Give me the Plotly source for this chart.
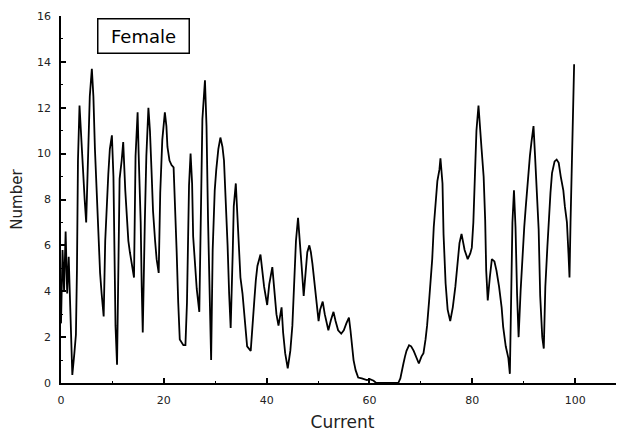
import plotly.graph_objects as go

current = [
    0.0, 0.3, 0.6, 0.9, 1.2, 1.5, 1.8, 2.0, 2.2, 2.6, 2.9, 3.1, 3.3, 3.6, 3.8, 4.0, 4.3, 4.6, 4.9,
    5.3, 5.6, 6.0, 6.3, 6.6, 7.0, 7.3, 7.6, 7.9, 8.3, 8.6, 8.9, 9.2, 9.5, 9.9, 10.2, 10.4, 10.6,
    10.9, 11.2, 11.4, 11.8, 12.1, 12.5, 12.8, 13.1, 13.4, 13.9, 14.2, 14.5, 14.9, 15.1, 15.5,
    15.7, 15.9, 16.3, 16.6, 17.0, 17.3, 17.6, 17.9, 18.3, 18.6, 19.0, 19.3, 19.7, 20.2, 20.5,
    20.7, 21.1, 21.5, 21.9, 22.1, 22.5, 22.8, 23.1, 23.8, 24.2, 24.5, 24.7, 24.9, 25.2, 25.5,
    25.7, 26.1, 26.4, 26.9, 27.2, 27.5, 28.0, 28.3, 28.6, 29.0, 29.2, 29.5, 29.9, 30.2, 30.6,
    31.0, 31.4, 31.7, 32.0, 32.4, 32.7, 33.0, 33.4, 33.6, 34.0, 34.2, 34.6, 34.9, 35.3, 35.8,
    36.2, 36.9, 37.2, 37.6, 37.9, 38.2, 38.8, 39.1, 39.5, 40.1, 40.5, 41.1, 41.5, 41.9, 42.3,
    42.9, 43.2, 43.6, 44.1, 44.6, 45.0, 45.4, 45.7, 46.1, 46.4, 46.8, 47.2, 47.6, 47.9, 48.3,
    48.6, 48.9, 49.2, 49.5, 49.8, 50.1, 50.4, 50.9, 51.3, 51.8, 52.0, 52.5, 53.0, 53.4, 53.9,
    54.5, 55.0, 55.5, 56.0, 56.3, 56.6, 56.9, 57.3, 57.8, 58.5, 59.5, 60.1, 60.8, 61.3, 65.6,
    66.0, 66.4, 66.6, 66.9, 67.2, 67.7, 68.1, 68.6, 69.1, 69.6, 70.1, 70.5, 70.9, 71.2, 71.6,
    71.9, 72.2, 72.5, 72.9, 73.2, 73.6, 73.8, 74.2, 74.4, 74.8, 75.2, 75.7, 76.2, 76.7, 77.1,
    77.5, 77.9, 78.5, 79.1, 79.6, 79.9, 80.2, 80.5, 80.8, 81.2, 81.5, 81.8, 82.2, 82.5, 82.7,
    83.0, 83.4, 83.8, 84.3, 84.7, 85.2, 85.7, 86.0, 86.5, 87.0, 87.3, 87.6, 87.8, 88.1, 88.4,
    88.7, 89.0, 89.4, 89.7, 90.1, 90.4, 90.8, 91.2, 91.5, 91.9, 92.2, 92.5, 92.9, 93.2, 93.6,
    93.9, 94.2, 94.6, 94.9, 95.2, 95.5, 96.0, 96.4, 96.8, 97.2, 97.7, 98.0, 98.4, 98.7, 98.9,
    99.1, 99.5, 99.8,
]

number = [
    2.6, 5.8, 4.0, 6.6, 3.9, 5.5, 3.3, 1.1, 0.35, 1.3, 2.1, 4.9, 9.7, 12.1, 11.2, 10.3, 9.4, 8.0, 7.0,
    10.3, 12.5, 13.7, 12.5, 10.2, 7.8, 6.1, 4.8, 3.9, 2.9, 6.2, 7.8, 9.1, 10.2, 10.8, 9.0, 5.8, 2.5,
    0.8, 5.7, 8.9, 9.7, 10.5, 8.4, 7.3, 6.2, 5.7, 5.1, 4.6, 9.9, 11.8, 10.0, 7.0,
    4.2, 2.2, 7.0, 9.9, 12.0, 11.0, 9.3, 7.5, 6.2, 5.4, 4.8, 8.3, 10.6, 11.8, 11.2,
    10.3, 9.7, 9.5, 9.4, 8.3, 5.7, 3.5, 1.9, 1.65, 1.65, 3.5, 5.7, 8.6, 10.0, 8.7,
    6.4, 4.9, 4.1, 3.1, 8.0, 11.5, 13.2, 11.2, 7.1, 3.5, 1.0, 5.8, 8.4, 9.3, 10.2,
    10.7, 10.3, 9.7, 8.3, 6.0, 3.9, 2.4, 5.7, 7.7, 8.7, 7.8, 6.2, 4.6, 3.9, 2.7,
    1.6, 1.4, 2.2, 3.6, 4.5, 5.1, 5.6, 5.0, 4.2, 3.4, 4.3, 5.05, 4.0, 3.0, 2.5,
    3.3, 2.2, 1.3, 0.64, 1.4, 2.5, 4.35, 6.2, 7.2, 6.4, 5.1, 3.8, 4.8, 5.7, 6.0,
    5.7, 5.2, 4.6, 3.9, 3.2, 2.7, 3.2, 3.55, 3.0, 2.4, 2.3, 2.75, 3.1, 2.7, 2.3,
    2.15, 2.3, 2.6, 2.85, 2.3, 1.6, 1.0, 0.56, 0.24, 0.2, 0.13, 0.17, 0.1, 0.0, 0.0,
    0.2, 0.56, 0.85, 1.15, 1.4, 1.65, 1.6, 1.4, 1.1, 0.85, 1.15, 1.3, 1.9, 2.5, 3.6,
    4.5, 5.4, 6.8, 8.1, 8.8, 9.3, 9.8, 8.7, 6.5, 4.35, 3.2, 2.7, 3.3, 4.2, 5.1,
    6.1, 6.5, 5.8, 5.4, 5.65, 5.9, 7.0, 9.0, 11.0, 12.1, 11.3, 10.2, 9.0, 7.1, 4.9,
    3.6, 4.6, 5.4, 5.3, 4.9, 4.2, 3.3, 2.45, 1.6, 1.1, 0.4, 4.35, 7.0, 8.4, 6.8,
    3.9, 2.0, 4.05, 5.5, 6.8, 7.7, 9.0, 9.9, 10.5, 11.2, 9.9, 8.3, 6.7, 3.8, 2.0,
    1.5, 4.2, 5.95, 7.3, 8.3, 9.15, 9.66, 9.74, 9.6, 9.0, 8.4, 7.7, 7.0, 5.65, 4.6,
    7.0, 11.6, 13.9,
]

x_ticks = [0, 20, 40, 60, 80, 100]
y_ticks = [0, 2, 4, 6, 8, 10, 12, 14, 16]
series_name = "Female"

FONT = "DejaVu Sans, Verdana, sans-serif"

fig = go.Figure()
fig.add_trace(go.Scatter(
    x=current, y=number, mode="lines", name=series_name,
    line=dict(color="black", width=1.8), showlegend=False,
))

tickfont = dict(family=FONT, size=11, color="#222222")

fig.update_layout(
    width=616, height=424,
    margin=dict(l=53, r=0, t=8, b=49, pad=0, autoexpand=False),
    paper_bgcolor="white", plot_bgcolor="white",
    xaxis=dict(
        range=[0, 109.5], tickvals=x_ticks, ticktext=[str(v) for v in x_ticks],
        ticks="inside", ticklen=5, tickwidth=1.5, tickcolor="black",
        minor=dict(ticks="inside", ticklen=2, tickwidth=1.2, dtick=10, tick0=0, tickcolor="black"),
        showline=True, linecolor="black", linewidth=1.6,
        showgrid=False, zeroline=False, tickfont=tickfont, ticklabelstandoff=6,
        automargin=False,
        title=dict(text="Current", font=dict(family=FONT, size=17, color="#222222"), standoff=11),
    ),
    yaxis=dict(
        range=[0, 16], tickvals=y_ticks, ticktext=[str(v) for v in y_ticks],
        ticks="inside", ticklen=5, tickwidth=1.5, tickcolor="black",
        minor=dict(ticks="inside", ticklen=2, tickwidth=1.2, dtick=1, tick0=0, tickcolor="black"),
        showline=True, linecolor="black", linewidth=1.6,
        showgrid=False, zeroline=False, tickfont=tickfont, ticklabelstandoff=6,
        automargin=False,
        title=dict(text="Number", font=dict(family=FONT, size=15, color="#222222"), standoff=13),
    ),
    annotations=[dict(
        text=series_name, xref="paper", yref="paper", x=0.1465, y=0.945,
        xanchor="center", yanchor="middle", showarrow=False,
        font=dict(family=FONT, size=18, color="black"),
        bordercolor="black", borderwidth=1.5, borderpad=2, width=86, height=29,
        bgcolor="white",
    )],
)

fig.write_html("out.html")
